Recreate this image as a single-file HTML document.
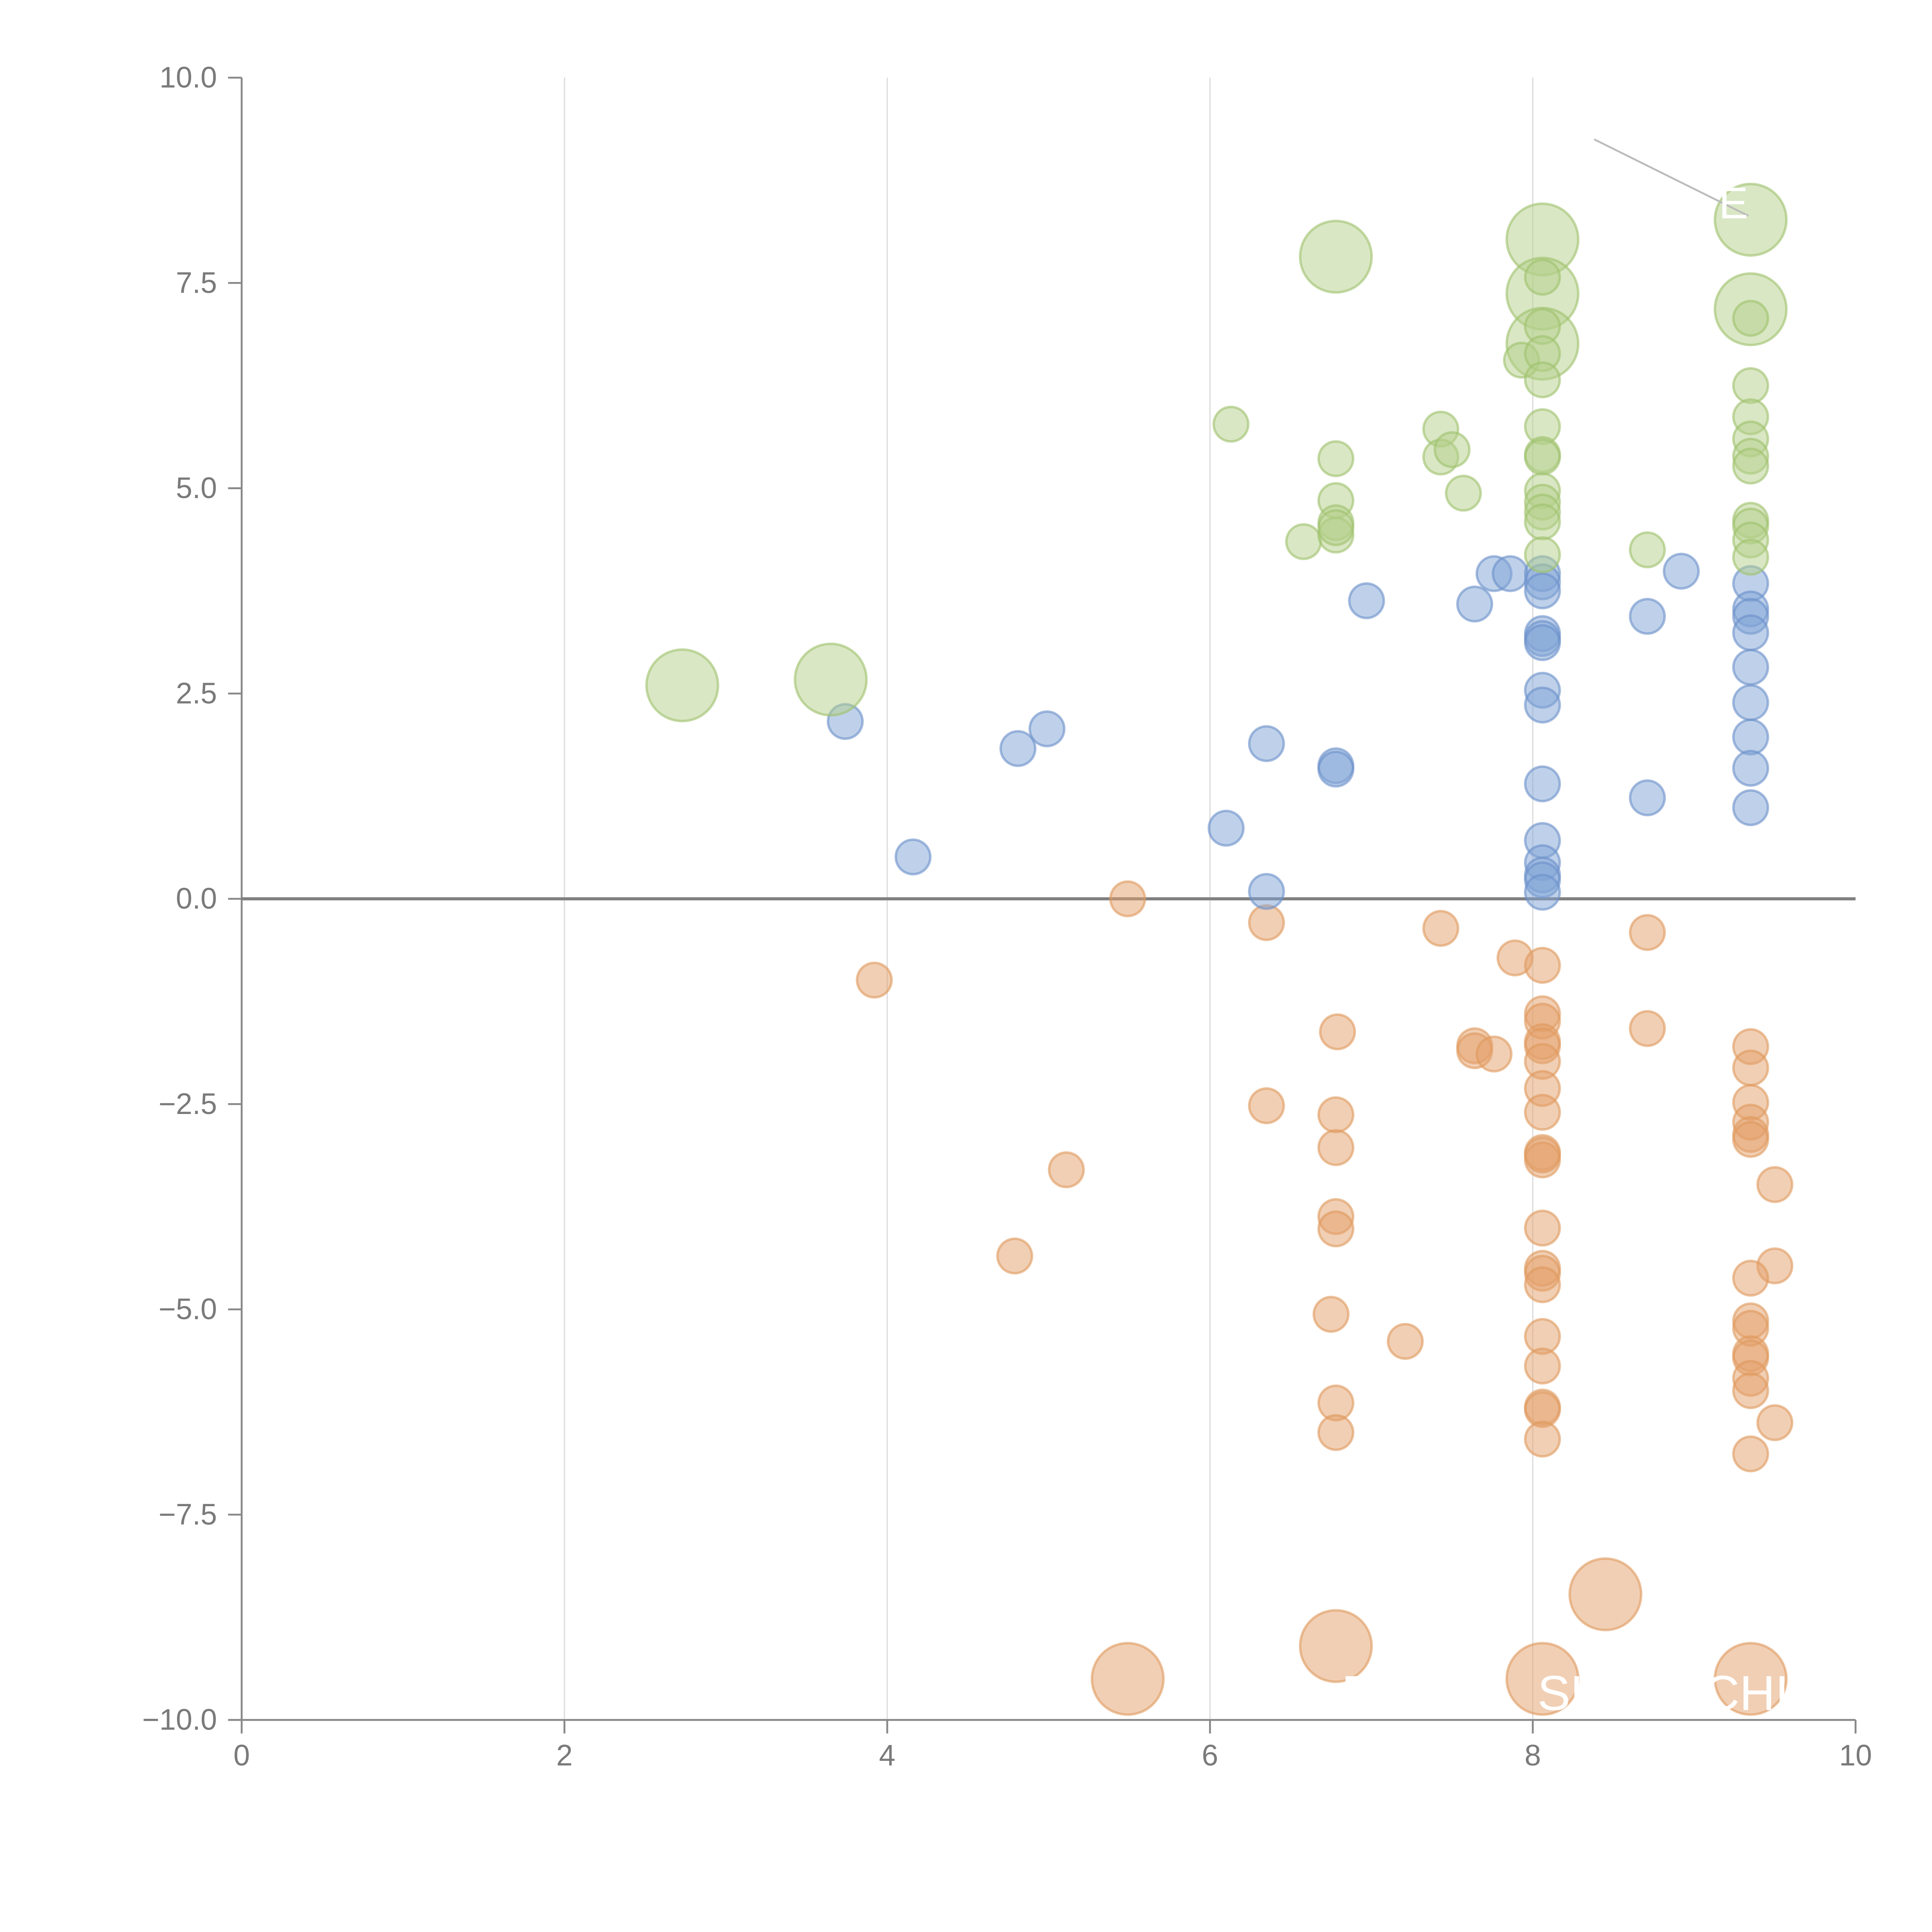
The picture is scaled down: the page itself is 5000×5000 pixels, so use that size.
<!DOCTYPE html>
<html><head><meta charset="utf-8"><style>html,body{margin:0;padding:0;background:#fff}svg{display:block}</style></head>
<body>
<svg id="chart" width="5000" height="5000" viewBox="0 0 1567 1567" xmlns="http://www.w3.org/2000/svg" font-family="Liberation Sans, Arial, sans-serif">
<g id="grid"></g>
<g id="axes"></g>
<g id="marks"></g>
<g id="labels">
<line x1="1293" y1="113" x2="1418" y2="175" stroke="#bbb" stroke-width="1.5"/>
<text x="1394" y="177" fill="#fff" font-size="36">E</text>
<text x="1088" y="1387" fill="#fff" font-size="40">F</text>
<text x="1247" y="1387" fill="#fff" font-size="40">SH</text>
<text x="1382" y="1387" fill="#fff" font-size="40">CHI</text>
</g>
</svg>
<script>
const xTicks = [0, 2, 4, 6, 8, 10];
const yTicks = [10, 7.5, 5, 2.5, 0, -2.5, -5, -7.5, -10];
const yTickLabels = ["10.0", "7.5", "5.0", "2.5", "0.0", "\u22122.5", "\u22125.0", "\u22127.5", "\u221210.0"];

const greenX = [2.73,3.65,6.78,8.06,8.06,8.06,9.35,9.35, 6.13,6.58,6.78,6.78,6.78,6.78,6.78,7.43,7.43,7.5,7.57,7.93,8.06,8.06,8.06,8.06,8.06,8.06,8.06,8.06,8.06,8.06,8.06,8.06,8.71,9.35,9.35,9.35,9.35,9.35,9.35,9.35,9.35,9.35,9.35];
const greenY = [2.6,2.67,7.82,8.03,7.37,6.76,8.27,7.18, 5.78,4.35,5.36,4.85,4.58,4.43,4.52,5.72,5.38,5.47,4.94,6.56,7.57,6.97,6.64,6.32,5.75,5.41,5.38,4.97,4.83,4.71,4.59,4.19,4.25,7.07,6.25,5.87,5.6,5.39,5.27,4.61,4.54,4.37,4.16];
const greenS = [2,2,2,2,2,2,2,2, 1,1,1,1,1,1,1,1,1,1,1,1,1,1,1,1,1,1,1,1,1,1,1,1,1,1,1,1,1,1,1,1,1,1,1];

const blueX = [3.74,4.16,4.81,4.99,6.1,6.35,6.35,6.78,6.78,6.97,7.64,7.76,7.86,8.06,8.06,8.06,8.06,8.06,8.06,8.06,8.06,8.06,8.06,8.06,8.06,8.06,8.06,8.71,8.71,8.92,9.35,9.35,9.35,9.35,9.35,9.35,9.35,9.35,9.35];
const blueY = [2.16,0.51,1.83,2.07,0.86,1.89,0.09,1.62,1.58,3.63,3.59,3.96,3.96,3.96,3.86,3.75,3.23,3.17,3.12,2.54,2.36,1.4,0.71,0.44,0.29,0.23,0.08,3.44,1.23,3.99,3.84,3.53,3.44,3.24,2.82,2.39,1.97,1.59,1.11];
const blueS = blueX.map(() => 1);

const orangeX = [5.49,6.78,8.06,8.45,9.35, 3.92,5.49,4.79,5.11,6.35,6.35,6.79,6.78,6.78,6.78,6.78,6.75,6.78,6.78,7.21,7.43,7.64,7.64,7.76,7.89,8.06,8.06,8.06,8.06,8.06,8.06,8.06,8.06,8.06,8.06,8.06,8.06,8.06,8.06,8.06,8.06,8.06,8.06,8.06,8.06,8.71,8.71,9.35,9.35,9.35,9.35,9.35,9.35,9.5,9.5,9.35,9.35,9.35,9.35,9.35,9.35,9.35,9.5,9.35];
const orangeY = [-9.5,-9.1,-9.5,-8.47,-9.5, -0.99,0,-4.35,-3.3,-0.29,-2.52,-1.62,-2.63,-3.03,-3.87,-4.02,-5.06,-6.14,-6.5,-5.39,-0.36,-1.79,-1.85,-1.89,-0.72,-0.81,-1.4,-1.49,-1.74,-1.79,-1.98,-2.31,-2.6,-3.09,-3.18,-4.01,-4.5,-4.56,-4.7,-5.33,-5.69,-6.19,-6.22,-6.58,-3.12,-0.41,-1.58,-1.8,-2.06,-2.48,-2.72,-2.87,-2.93,-3.48,-4.47,-4.62,-5.14,-5.23,-5.54,-5.59,-5.84,-5.99,-6.38,-6.76];
const orangeS = orangeX.map((v, i) => i < 5 ? 2 : 1);

const NS = "http://www.w3.org/2000/svg";
const X0 = 196, X1 = 1505, Y0 = 1395, Y1 = 63;
function sx(v) { return X0 + (v - 0) / 10 * (X1 - X0); }
function sy(v) { return Y0 - (v + 10) / 20 * (Y0 - Y1); }
function rad(s) { return s === 2 ? 29 : 14; }
function mk(tag, attrs, parent) {
  const el = document.createElementNS(NS, tag);
  for (const k in attrs) el.setAttribute(k, attrs[k]);
  parent.appendChild(el);
  return el;
}
const grid = document.getElementById('grid');
const axes = document.getElementById('axes');
const marks = document.getElementById('marks');

xTicks.forEach(t => {
  if (t > 0 && t < 10) {
    const g = mk('line', {x1: sx(t), x2: sx(t), y1: Y1, y2: Y0, stroke: '#dcdcdc', 'stroke-width': 1}, grid);
    
    
  }
  const tk = mk('line', {x1: sx(t), x2: sx(t), y1: Y0, y2: Y0 + 11, stroke: '#888', 'stroke-width': 1.5}, axes);
  
  
  const lb = mk('text', {x: sx(t), y: Y0 + 37, 'text-anchor': 'middle', 'font-size': 24, fill: '#7a7a7a'}, axes);
  lb.textContent = String(t);
  
  
});
yTicks.forEach((t, i) => {
  const tk = mk('line', {x1: X0 - 11, x2: X0, y1: sy(t), y2: sy(t), stroke: '#888', 'stroke-width': 1.5}, axes);
  
  
  const lb = mk('text', {x: X0 - 20, y: sy(t) + 8, 'text-anchor': 'end', 'font-size': 24, fill: '#7a7a7a'}, axes);
  lb.textContent = yTickLabels[i];
  
  
});
const yAxis = mk('line', {x1: X0, x2: X0, y1: Y1, y2: Y0, stroke: '#888', 'stroke-width': 1.5}, axes);


const xAxis = mk('line', {x1: X0, x2: X1, y1: Y0, y2: Y0, stroke: '#888', 'stroke-width': 1.5}, axes);


const zero = mk('line', {x1: X0, x2: X1, y1: sy(0), y2: sy(0), stroke: '#808080', 'stroke-width': 2.5}, axes);



function series(xs, ys, ss, fill, stroke, name) {
  xs.forEach((v, i) => {
    const c = mk('circle', {cx: sx(v), cy: sy(ys[i]), r: rad(ss[i]), fill: fill, 'fill-opacity': 0.5, stroke: stroke, 'stroke-opacity': 0.6, 'stroke-width': 2}, marks);
    
    
  });
}
series(orangeX, orangeY, orangeS, '#e3a06a', '#e09a5e', 'orange-bubble');
series(blueX, blueY, blueS, '#7fa3d6', '#6a90c9', 'blue-bubble');
series(greenX, greenY, greenS, '#b3d08a', '#9fc26c', 'green-bubble');
document.getElementById('chart').appendChild(document.getElementById('labels'));
</script>
</body></html>
